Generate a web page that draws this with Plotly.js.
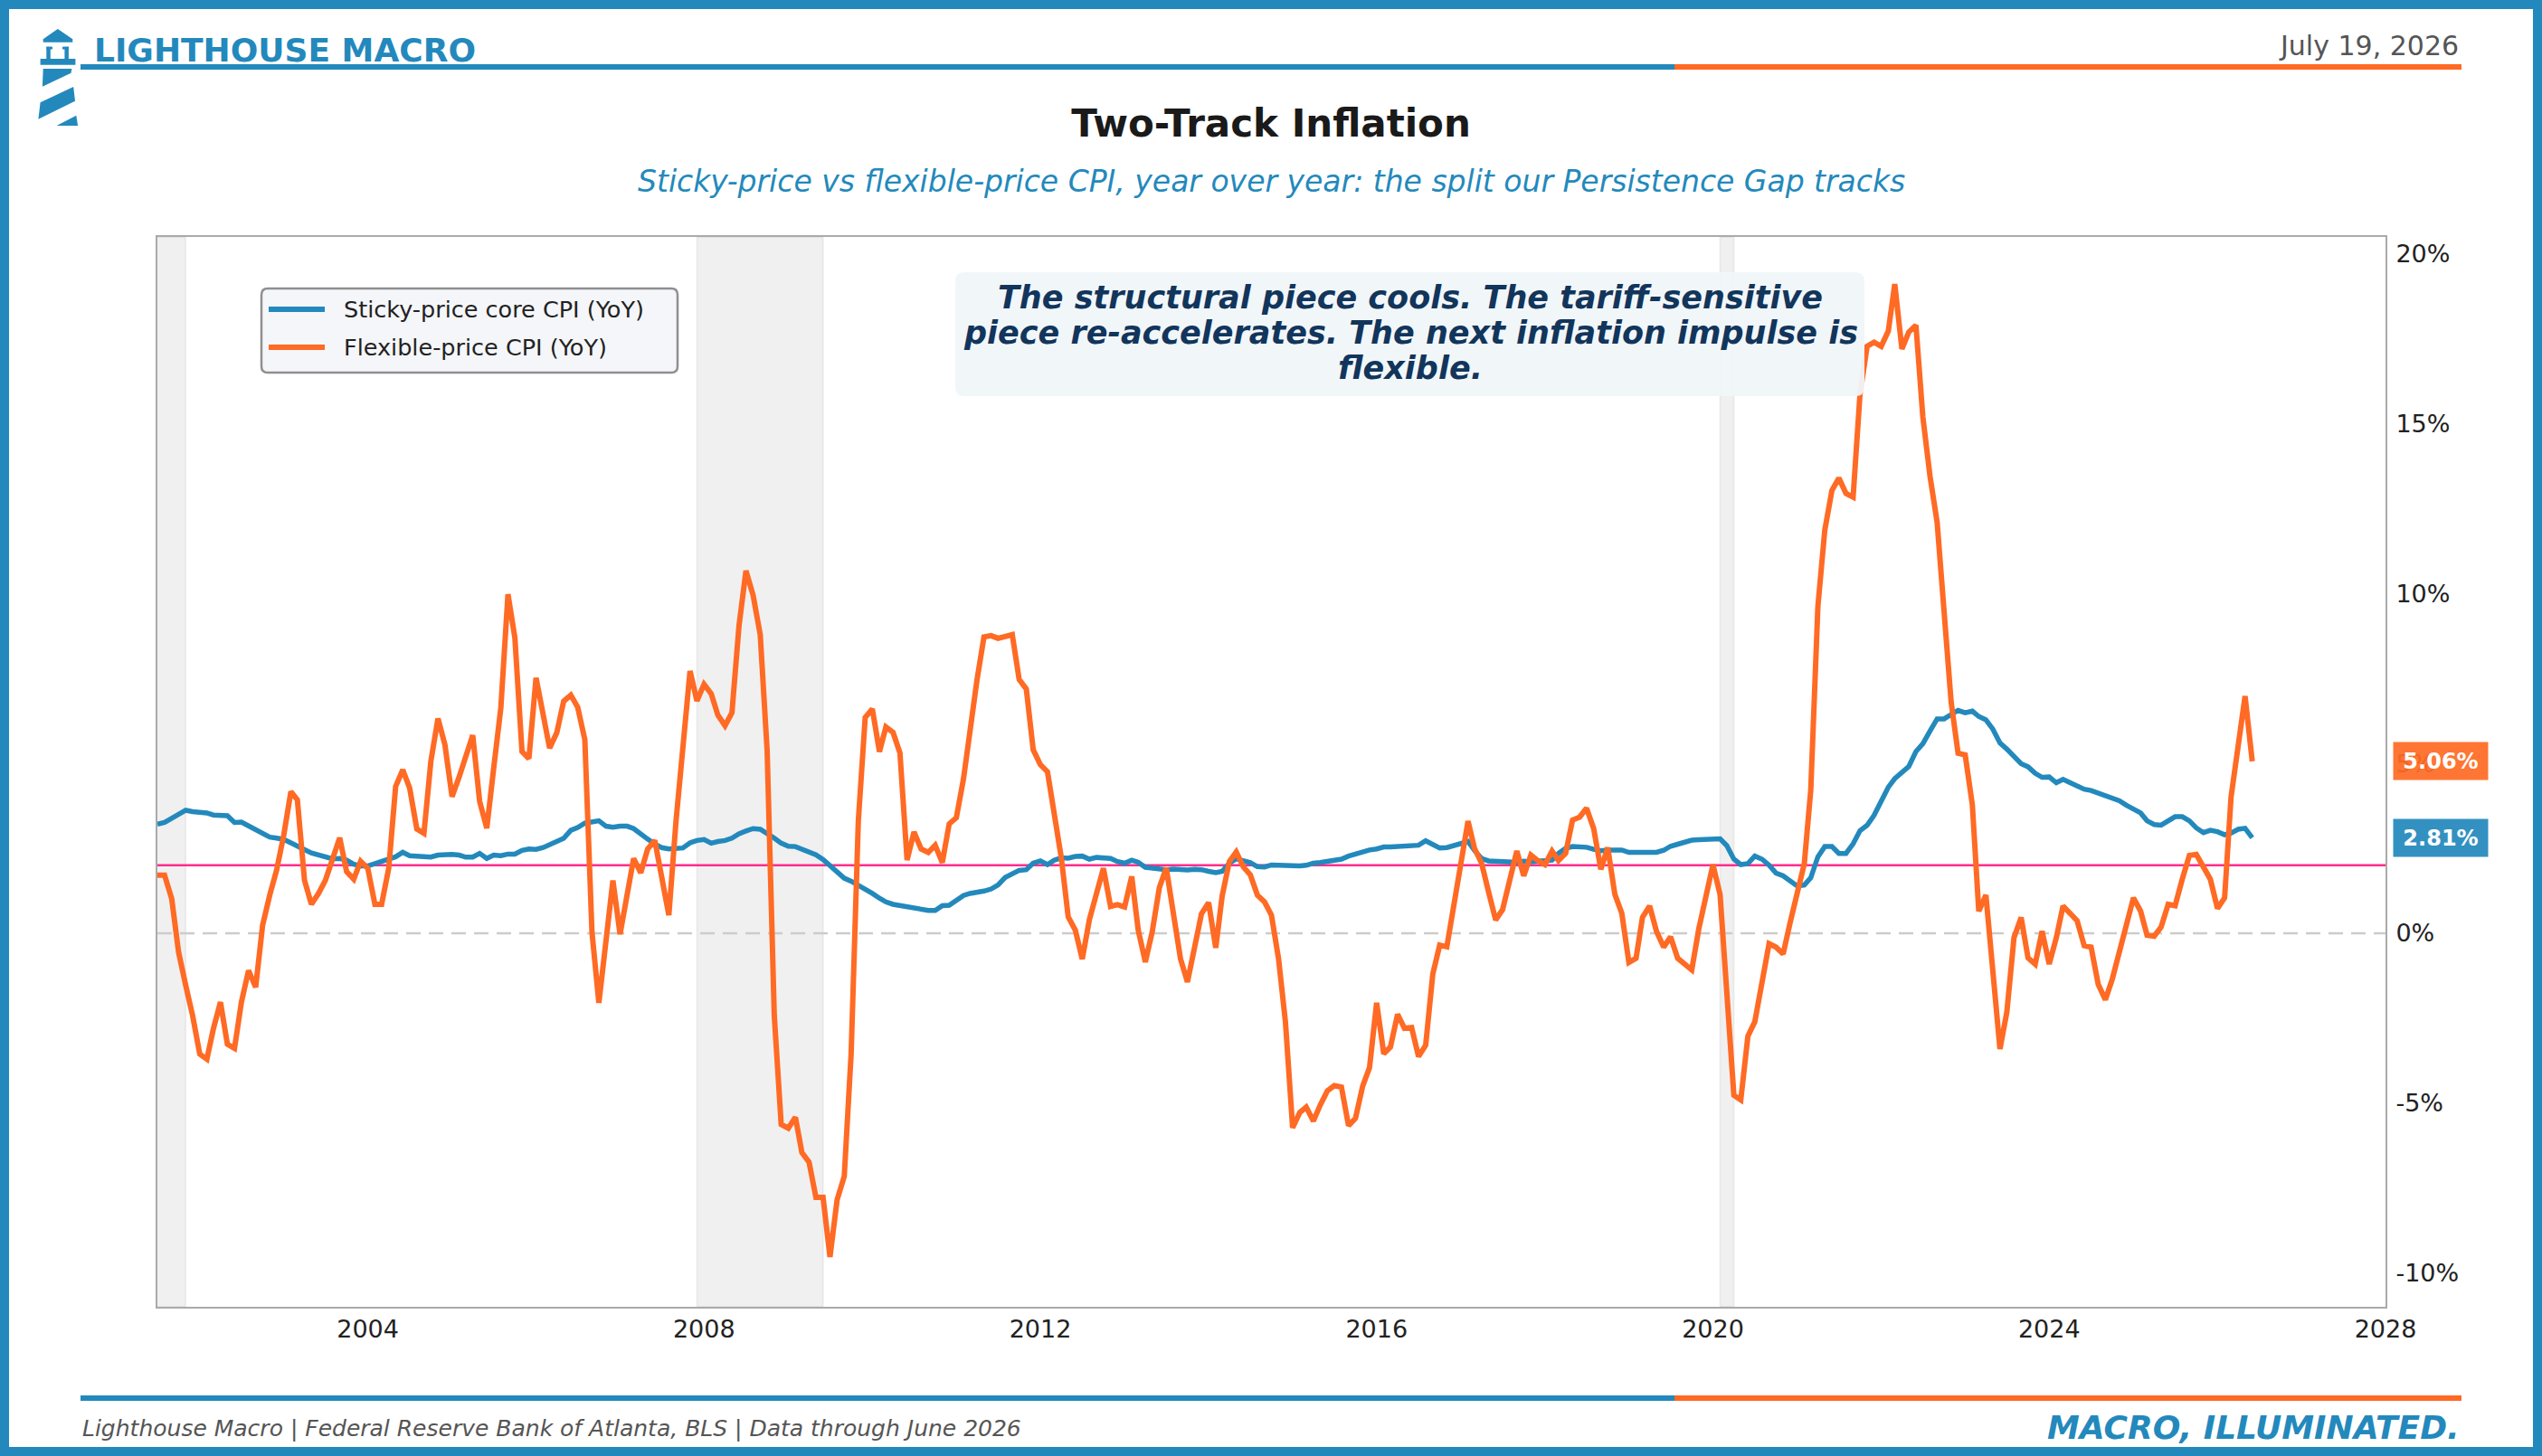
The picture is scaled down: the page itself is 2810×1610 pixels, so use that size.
<!DOCTYPE html>
<html>
<head>
<meta charset="utf-8">
<script src="https://cdn.plot.ly/plotly-3.0.1.min.js"></script>
<style>
html,body{margin:0;padding:0;background:#ffffff;}
#chart{width:2810px;height:1610px;}
</style>
</head>
<body>
<div id="chart"></div>
<script>
// ---------------- DATA ----------------
const START_YEAR = 2001;
const START_MONTH = 7; // first observation: July 2001 (monthly through June 2026)

// Sticky-price core CPI, YoY %
const sticky = [
 3.21,3.26,3.38,3.51,3.62,3.58,3.57,3.54,3.48,3.47,
 3.46,3.26,3.27,3.16,3.04,2.95,2.83,2.80,2.76,2.66,
 2.58,2.46,2.36,2.29,2.25,2.19,2.20,2.15,2.03,1.98,
 1.98,2.05,2.14,2.22,2.25,2.38,2.28,2.27,2.25,2.24,
 2.30,2.32,2.32,2.30,2.24,2.24,2.35,2.20,2.30,2.28,
 2.33,2.33,2.44,2.48,2.47,2.52,2.60,2.69,2.79,3.03,
 3.11,3.24,3.28,3.31,3.15,3.12,3.15,3.15,3.08,2.94,
 2.77,2.62,2.52,2.48,2.48,2.51,2.66,2.73,2.76,2.65,
 2.70,2.73,2.80,2.93,3.01,3.08,3.06,2.94,2.80,2.65,
 2.56,2.55,2.48,2.40,2.31,2.17,1.98,1.81,1.62,1.53,
 1.41,1.32,1.17,1.03,0.92,0.85,0.81,0.78,0.75,0.71,
 0.67,0.67,0.81,0.82,0.95,1.11,1.17,1.20,1.24,1.30,
 1.42,1.64,1.73,1.85,1.87,2.06,2.13,2.02,2.15,2.22,
 2.21,2.26,2.27,2.18,2.23,2.22,2.20,2.11,2.06,2.15,
 2.09,1.94,1.91,1.89,1.87,1.89,1.87,1.86,1.88,1.87,
 1.82,1.78,1.82,2.06,2.19,2.15,2.08,1.96,1.95,2.01,
 2.00,1.97,1.98,1.98,2.00,2.06,2.08,2.12,2.15,2.18,
 2.27,2.34,2.40,2.45,2.48,2.54,2.54,2.55,2.58,2.58,
 2.59,2.72,2.63,2.51,2.52,2.59,2.65,2.70,2.44,2.20,
 2.13,2.12,2.10,2.09,2.09,2.12,2.10,2.12,2.12,2.15,
 2.35,2.50,2.55,2.55,2.53,2.47,2.43,2.45,2.46,2.45,
 2.38,2.38,2.37,2.40,2.38,2.44,2.56,2.62,2.69,2.74,
 2.75,2.77,2.78,2.78,2.58,2.18,2.02,2.05,2.27,2.18,
 2.00,1.77,1.69,1.55,1.39,1.42,1.63,2.25,2.55,2.55,
 2.35,2.35,2.63,3.02,3.18,3.47,3.92,4.30,4.55,4.71,
 4.91,5.35,5.58,5.95,6.31,6.31,6.43,6.56,6.49,6.54,
 6.38,6.28,6.01,5.60,5.42,5.18,4.99,4.90,4.71,4.59,
 4.60,4.43,4.53,4.43,4.32,4.24,4.20,4.12,4.03,3.98,
 3.90,3.77,3.65,3.54,3.31,3.20,3.18,3.31,3.43,3.43,
 3.31,3.10,2.96,3.03,2.99,2.90,2.95,3.06,3.09,2.81
];

// Flexible-price CPI, YoY %
const flex = [
 1.71,1.71,1.02,-0.56,-1.54,-2.43,-3.56,-3.71,-2.82,-2.03,
 -3.27,-3.39,-2.03,-1.10,-1.59,0.23,1.12,1.86,2.89,4.17,
 3.93,1.56,0.85,1.17,1.56,2.20,2.81,1.81,1.59,2.12,
 1.91,0.85,0.85,1.91,4.32,4.81,4.27,3.07,2.94,5.06,
 6.32,5.55,4.02,4.60,5.20,5.83,3.88,3.09,4.86,6.63,
 9.98,8.70,5.35,5.14,7.52,6.34,5.45,5.90,6.83,7.01,
 6.65,5.70,0.03,-2.05,-0.10,1.55,-0.03,1.06,2.20,1.78,
 2.48,2.73,1.62,0.53,3.29,5.66,7.72,6.84,7.33,7.05,
 6.42,6.11,6.49,9.07,10.67,9.95,8.79,5.38,-2.42,-5.63,
 -5.74,-5.42,-6.46,-6.74,-7.78,-7.78,-9.53,-7.85,-7.16,-3.54,
 3.29,6.35,6.60,5.34,6.07,5.91,5.31,2.15,2.98,2.48,
 2.38,2.59,2.08,3.22,3.40,4.54,6.07,7.47,8.72,8.76,
 8.68,8.72,8.79,7.47,7.19,5.40,4.96,4.75,3.49,2.22,
 0.48,0.09,-0.76,0.40,1.17,1.91,0.79,0.84,0.77,1.67,
 0.10,-0.85,0.04,1.34,1.92,0.59,-0.76,-1.44,-0.40,0.57,
 0.90,-0.43,1.10,2.11,2.39,1.95,1.72,1.12,0.92,0.53,
 -0.76,-2.63,-5.73,-5.28,-5.12,-5.53,-5.06,-4.64,-4.49,-4.53,
 -5.67,-5.45,-4.51,-3.96,-2.05,-3.55,-3.35,-2.39,-2.80,-2.78,
 -3.63,-3.30,-1.20,-0.35,-0.40,0.79,2.22,3.30,2.50,2.06,
 1.22,0.39,0.69,1.55,2.42,1.69,2.30,2.14,2.02,2.42,
 2.14,2.35,3.33,3.42,3.68,3.08,1.88,2.52,1.14,0.59,
 -0.86,-0.74,0.47,0.80,0.05,-0.41,-0.11,-0.74,-0.91,-1.08,
 0.14,1.09,2.02,1.14,-1.80,-4.77,-4.91,-3.03,-2.61,-1.36,
 -0.31,-0.41,-0.61,0.30,1.14,2.05,4.21,9.62,11.87,13.04,
 13.40,12.95,12.84,15.87,17.28,17.40,17.28,17.73,19.11,17.20,
 17.70,17.90,15.20,13.46,12.10,9.60,6.80,5.30,5.25,3.78,
 0.65,1.12,-1.23,-3.41,-2.32,-0.13,0.46,-0.73,-0.91,0.06,
 -0.91,-0.13,0.80,0.60,0.37,-0.37,-0.41,-1.51,-1.96,-1.35,
 -0.55,0.26,1.04,0.65,-0.06,-0.09,0.18,0.85,0.81,1.59,
 2.29,2.32,1.98,1.59,0.73,1.04,4.01,5.65,6.98,5.06
];

// NBER recessions (start, end)
const recessionStarts = ['2001-03-01','2007-12-01','2020-02-01'];
const recessionEnds   = ['2001-11-01','2009-06-01','2020-04-01'];

const FED_TARGET = 2;
const xTickYears = [2004,2008,2012,2016,2020,2024,2028];
const yTickValues = [-10,-5,0,5,10,15,20];

const seriesNames = ['Sticky-price core CPI (YoY)','Flexible-price CPI (YoY)'];

// ---------------- STYLE ----------------
const BLUE = '#2389BC';
const ORANGE = '#FF6A24';
const PINK = '#FF2D8C';
const NAVY = '#12355B';
const FONT = 'DejaVu Sans, Verdana, sans-serif';

const FW = 2810, FH = 1610;
const L = 174, R = 2637, T = 262, B = 1445;
const PX = x => (x - L) / (R - L);
const PY = y => (B - y) / (B - T);

function rr(x0, y0, x1, y1, r) {
  const X = PX, Y = PY;
  return `M${X(x0 + r)},${Y(y0)} L${X(x1 - r)},${Y(y0)} Q${X(x1)},${Y(y0)} ${X(x1)},${Y(y0 + r)} ` +
         `L${X(x1)},${Y(y1 - r)} Q${X(x1)},${Y(y1)} ${X(x1 - r)},${Y(y1)} ` +
         `L${X(x0 + r)},${Y(y1)} Q${X(x0)},${Y(y1)} ${X(x0)},${Y(y1 - r)} ` +
         `L${X(x0)},${Y(y0 + r)} Q${X(x0)},${Y(y0)} ${X(x0 + r)},${Y(y0)} Z`;
}
function poly(pts) {
  return 'M' + pts.map(p => `${PX(p[0])},${PY(p[1])}`).join(' L') + ' Z';
}

// ---------------- BUILD ----------------
const dates = sticky.map((_, i) => {
  const m = START_MONTH - 1 + i;
  const y = START_YEAR + Math.floor(m / 12);
  const mm = (m % 12) + 1;
  return `${y}-${String(mm).padStart(2, '0')}-01`;
});

const traces = [
  { x: dates, y: sticky, type: 'scatter', mode: 'lines', name: seriesNames[0],
    line: { color: BLUE, width: 5.5 }, hoverinfo: 'skip', showlegend: false },
  { x: dates, y: flex, type: 'scatter', mode: 'lines', name: seriesNames[1],
    line: { color: ORANGE, width: 6 }, hoverinfo: 'skip', showlegend: false }
];

const shapes = [];
// recession shading
recessionStarts.forEach((s, k) => {
  shapes.push({ type: 'rect', xref: 'x', yref: 'paper', x0: s, x1: recessionEnds[k], y0: 0, y1: 1,
    fillcolor: 'rgba(0,0,0,0.06)', line: { color: 'rgba(0,0,0,0.05)', width: 2 }, layer: 'below' });
});
// zero line & Fed target
shapes.push({ type: 'line', xref: 'paper', yref: 'y', x0: 0, x1: 1, y0: 0, y1: 0,
  line: { color: '#cccccc', width: 2.5, dash: '16px,9px' }, layer: 'below' });
shapes.push({ type: 'line', xref: 'paper', yref: 'y', x0: 0, x1: 1, y0: FED_TARGET, y1: FED_TARGET,
  line: { color: PINK, width: 2.5 }, layer: 'below' });

// outer frame
shapes.push({ type: 'rect', xref: 'paper', yref: 'paper', x0: PX(5), x1: PX(FW - 5), y0: PY(5), y1: PY(FH - 5),
  line: { color: BLUE, width: 10 }, fillcolor: 'rgba(0,0,0,0)' });
// header & footer rules
[74, 1546].forEach(yy => {
  shapes.push({ type: 'line', xref: 'paper', yref: 'paper', x0: PX(89), x1: PX(1851), y0: PY(yy), y1: PY(yy),
    line: { color: BLUE, width: 6 } });
  shapes.push({ type: 'line', xref: 'paper', yref: 'paper', x0: PX(1851), x1: PX(2721), y0: PY(yy), y1: PY(yy),
    line: { color: ORANGE, width: 6 } });
});
// lighthouse logo
const logoParts = [
  [[47.7,43.3],[63.8,32],[80.3,43.3],[80.3,46.7],[47.7,46.7]],
  [[51.3,51.7],[55.8,51.7],[55.8,65],[51.3,65]],
  [[71.4,51.7],[75.9,51.7],[75.9,65],[71.4,65]],
  [[51.3,51.7],[58,51.7],[58,54.5],[51.3,54.5]],
  [[69,51.7],[75.9,51.7],[75.9,54.5],[69,54.5]],
  [[44.6,65],[83.4,65],[83.4,71.7],[44.6,71.7]],
  [[47.7,76],[79.4,76],[78.5,80.7],[46.9,95.7]],
  [[81.2,96],[83,111.7],[42.4,131.7],[44.6,113.3]],
  [[84.3,127.7],[86.1,139],[62.5,139]]
];
logoParts.forEach(p => shapes.push({ type: 'path', xref: 'paper', yref: 'paper', path: poly(p),
  fillcolor: BLUE, line: { width: 0 } }));

// legend box
shapes.push({ type: 'path', xref: 'paper', yref: 'paper', path: rr(289, 319, 749, 412, 7),
  fillcolor: 'rgba(243,246,249,0.95)', line: { color: '#8f8f8f', width: 2.5 } });
shapes.push({ type: 'line', xref: 'paper', yref: 'paper', x0: PX(297), x1: PX(359), y0: PY(342), y1: PY(342),
  line: { color: BLUE, width: 6 } });
shapes.push({ type: 'line', xref: 'paper', yref: 'paper', x0: PX(297), x1: PX(359), y0: PY(384), y1: PY(384),
  line: { color: ORANGE, width: 6 } });

// callout box
shapes.push({ type: 'path', xref: 'paper', yref: 'paper', path: rr(1056, 301, 2061, 438, 10),
  fillcolor: 'rgba(240,245,249,0.95)', line: { width: 0 } });

const annotations = [];
const txt = (text, x, y, size, opts = {}) => Object.assign({
  text, xref: 'paper', yref: 'paper', x: PX(x), y: PY(y), showarrow: false,
  xanchor: 'left', yanchor: 'middle',
  font: { family: FONT, size, color: '#222' }
}, opts);

annotations.push(txt('LIGHTHOUSE MACRO', 102, 55, 36, { font: { family: FONT, size: 36, color: BLUE, weight: 'bold' } }));
annotations.push(txt('July 19, 2026', 2720, 50, 30, { xanchor: 'right', font: { family: FONT, size: 30, color: '#555555' } }));
annotations.push(txt('Sticky-price vs flexible-price CPI, year over year: the split our Persistence Gap tracks', FW / 2, 200, 33,
  { xanchor: 'center', font: { family: FONT, size: 33, color: BLUE, style: 'italic' } }));

const callout = ['The structural piece cools. The tariff-sensitive',
                 'piece re-accelerates. The next inflation impulse is',
                 'flexible.'];
[329, 368, 407].forEach((yy, k) => annotations.push(txt(callout[k], 1559, yy, 35,
  { xanchor: 'center', font: { family: FONT, size: 35, color: NAVY, weight: 'bold', style: 'italic' } })));

annotations.push(txt(seriesNames[0], 378, 342, 25.5, { font: { family: FONT, size: 25.5, color: '#222' } }));
annotations.push(txt(seriesNames[1], 378, 384, 25.5, { font: { family: FONT, size: 25.5, color: '#222' } }));

// end-value badges
const lastSticky = sticky[sticky.length - 1];
const lastFlex = flex[flex.length - 1];
[[lastFlex, 'rgba(255,106,36,0.93)'], [lastSticky, 'rgba(35,137,188,0.93)']].forEach(([v, c]) => {
  annotations.push({ text: v.toFixed(2) + '%', xref: 'paper', yref: 'y', x: PX(2645), y: v,
    xanchor: 'left', yanchor: 'middle', showarrow: false, bgcolor: c, borderpad: 7, width: 90, height: 27,
    align: 'center', font: { family: FONT, size: 24, color: '#ffffff', weight: 'bold' } });
});

annotations.push(txt('Lighthouse Macro | Federal Reserve Bank of Atlanta, BLS | Data through June 2026', 89, 1579, 25,
  { font: { family: FONT, size: 25, color: '#555555', style: 'italic' } }));
annotations.push(txt('MACRO, ILLUMINATED.', 2721, 1578, 36,
  { xanchor: 'right', font: { family: FONT, size: 36, color: BLUE, weight: 'bold', style: 'italic' } }));

const layout = {
  width: FW, height: FH,
  margin: { l: L, r: FW - R, t: T, b: FH - B, pad: 0 },
  paper_bgcolor: '#ffffff', plot_bgcolor: '#ffffff',
  showlegend: false,
  title: { text: 'Two-Track Inflation', x: 0.5, xref: 'container', xanchor: 'center',
    y: 1 - 136 / FH, yref: 'container', yanchor: 'middle',
    font: { family: FONT, size: 42, color: '#1a1a1a', weight: 'bold' } },
  xaxis: {
    type: 'date', range: ['2001-07-01', '2028-01-01'],
    tickvals: xTickYears.map(y => `${y}-01-01`), ticktext: xTickYears.map(String),
    showgrid: false, zeroline: false, showline: true, mirror: true, linecolor: '#aaaaaa', linewidth: 2,
    ticks: '',
    tickfont: { family: FONT, size: 27, color: '#222' }
  },
  yaxis: {
    side: 'right', range: [-11, 20.5], tickvals: yTickValues, ticktext: yTickValues.map(v => v + '%'),
    showgrid: false, zeroline: false, showline: true, mirror: true, linecolor: '#aaaaaa', linewidth: 2,
    ticks: 'outside', ticklen: 4, tickcolor: 'rgba(0,0,0,0)',
    tickfont: { family: FONT, size: 27, color: '#222' }
  },
  shapes, annotations
};

Plotly.newPlot('chart', traces, layout, { displayModeBar: false, staticPlot: true });
</script>
</body>
</html>
